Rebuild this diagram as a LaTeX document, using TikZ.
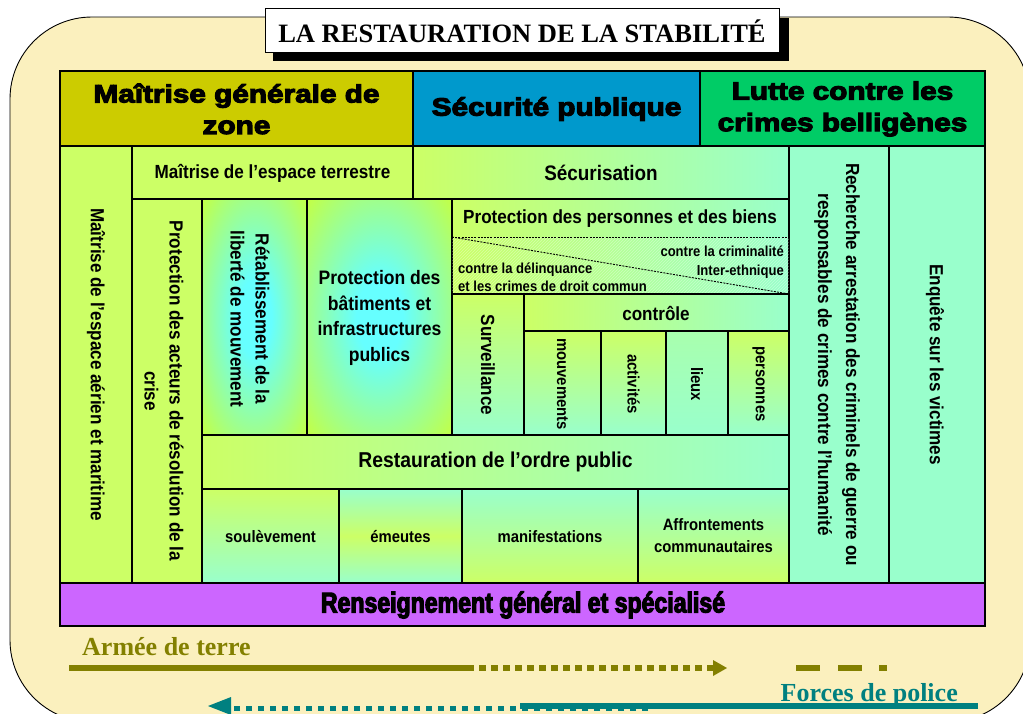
\documentclass[tikz,border=0pt]{standalone}
\usepackage{fontspec}
\setmainfont{Liberation Sans}
\newfontfamily\cf{Liberation Sans}[FakeStretch=0.9]
\newfontfamily\hf{Liberation Sans}[FakeStretch=1.19,FakeBold=4.5]
\newfontfamily\rf{Liberation Sans}[FakeStretch=0.81,FakeBold=4]
\newfontfamily\tf{Liberation Serif}
\usetikzlibrary{patterns}
\definecolor{cBg}{HTML}{FBF0BE}
\definecolor{cLime}{HTML}{CCFF66}
\definecolor{cMint}{HTML}{99FFCC}
\definecolor{cYlime}{HTML}{CCFF33}
\definecolor{cGlow}{HTML}{66FFFF}
\definecolor{cHA}{HTML}{CCCC00}
\definecolor{cHB}{HTML}{0099CC}
\definecolor{cHC}{HTML}{00CC66}
\definecolor{cPurp}{HTML}{CC66FF}
\definecolor{cOlive}{HTML}{838000}
\definecolor{cTeal}{HTML}{008080}
\pgfdeclareradialshading{glowshade}{\pgfpoint{0bp}{0bp}}{color(0bp)=(cGlow); color(8bp)=(cGlow); color(38bp)=(cYlime); color(50bp)=(cYlime)}
\tikzset{
  cell/.style={draw=black, line width=1.2pt},
  hdr/.style={font=\hf\bfseries\fontsize{25}{31.5}\selectfont, align=center, inner sep=0pt},
  lbl/.style={font=\cf\bfseries\fontsize{19}{25}\selectfont, align=center, inner sep=0pt},
  sml/.style={font=\cf\bfseries\fontsize{16.5}{22}\selectfont, align=center, inner sep=0pt},
  tiny/.style={font=\cf\bfseries\fontsize{14.5}{18.5}\selectfont, inner sep=0pt},
  hgrad/.style={left color=cLime, right color=cMint},
  vgrad/.style={top color=cLime, bottom color=cMint},
  vgradr/.style={top color=cMint, bottom color=cLime},
  glow/.style={shading=glowshade},
  divline/.style={dashed, line width=0.9pt, dash pattern=on 2pt off 1.2pt},
  thickline/.style={line width=5.5pt},
  dotline/.style={line width=5.5pt, dash pattern=on 6.5pt off 5.5pt},
}
\begin{document}
\begin{tikzpicture}[x=1pt,y=-1pt]
\useasboundingbox (0,0) rectangle (1023,713);
% background
\draw[fill=cBg, line width=0.9pt, rounded corners=82] (10,17) rectangle (1030,722);
% title
\fill[black] (273,18) rectangle (789,61);
\draw[fill=white, line width=0.8pt] (265,8) rectangle (779,52);
\node[font=\tf\bfseries\fontsize{26.5}{30}\selectfont, inner sep=0pt] (title) at (522,31) {LA RESTAURATION DE LA STABILITÉ};

% header row
\path[cell, fill=cHA] (60,71) rectangle (413,146);
\path[cell, fill=cHB] (413,71) rectangle (700,146);
\path[cell, fill=cHC] (700,71) rectangle (985,146);
\node[hdr] (hA) at (236.5,109) {Maîtrise générale de\\zone};
\node[hdr] (hB) at (556.5,109) {Sécurité publique};
\node[hdr] (hC) at (842.5,109) {Lutte contre les\\crimes belligènes};

% body cells
\path[cell, fill=cLime] (60,146) rectangle (132,583);
\path[cell, fill=cLime] (132,146) rectangle (413,199);
\path[cell, hgrad] (413,146) rectangle (789,199);
\path[cell, fill=cMint] (789,146) rectangle (889,583);
\path[cell, fill=cMint] (889,146) rectangle (985,583);
\path[cell, fill=cLime] (132,199) rectangle (202,583);
\path[cell, glow] (202,199) rectangle (307,435);
\path[cell, glow] (307,199) rectangle (452,435);
\path[cell, hgrad] (452,199) rectangle (789,294);
\fill[pattern=north east lines, pattern color=white, opacity=0.35] (452,237) rectangle (789,294);
\draw[divline] (452,237) -- (789,237);
\draw[divline] (452,237) -- (789,294);
\path[cell, vgrad] (452,294) rectangle (524,435);
\path[cell, hgrad] (524,294) rectangle (789,331);
\path[cell, vgrad] (524,331) rectangle (601,435);
\path[cell, vgrad] (601,331) rectangle (666,435);
\path[cell, top color=cMint!70!cLime, bottom color=cMint] (666,331) rectangle (728,435);
\path[cell, vgrad] (728,331) rectangle (789,435);
\path[cell, hgrad] (202,435) rectangle (789,489);
\path[cell, vgrad] (202,489) rectangle (339,583);
\path[cell, top color=cMint, bottom color=cMint, middle color=cLime] (339,489) rectangle (462,583);
\path[cell, vgradr] (462,489) rectangle (638,583);
\path[cell, vgradr] (638,489) rectangle (789,583);
\path[cell, fill=cPurp] (60,583) rectangle (985,626);

% texts
\node[lbl, rotate=-90] (aer) at (96,364.5) {Maîtrise de l’espace aérien et maritime};
\node[lbl] (terr) at (272.5,173) {Maîtrise de l’espace terrestre};
\node[lbl, font=\cf\bfseries\fontsize{21}{25}\selectfont] (secu) at (601,173) {Sécurisation};
\node[lbl, rotate=-90, font=\cf\bfseries\fontsize{19}{28}\selectfont] (rech) at (837,364.5) {Recherche arrestation des criminels de guerre ou\\responsables de crimes contre l’humanité};
\node[lbl, rotate=-90] (enq) at (935,364.5) {Enquête sur les victimes};
\node[lbl, rotate=-90] (acteurs) at (164,391) {Protection des acteurs de résolution de la\\crise};
\node[lbl, rotate=-90] (retab) at (250,319) {Rétablissement de la\\liberté de mouvement};
\node[lbl, font=\cf\bfseries\fontsize{19.5}{25.5}\selectfont] (batim) at (379.5,318) {Protection des\\bâtiments et\\infrastructures\\publics};
\node[lbl] (perso) at (620,219) {Protection des personnes et des biens};
\node[tiny, anchor=west, align=left] (delin) at (458,277) {contre la délinquance\\et les crimes de droit commun};
\node[tiny, anchor=east, align=right] (crimi) at (784,262) {contre la criminalité\\Inter-ethnique};
\node[lbl, rotate=-90] (surv) at (488,365) {Surveillance};
\node[lbl] (ctrl) at (656,313) {contrôle};
\node[sml, rotate=-90] (mouv) at (562.5,384) {mouvements};
\node[sml, rotate=-90] (activ) at (633.5,384) {activités};
\node[sml, rotate=-90] (lieux) at (697,384) {lieux};
\node[sml, rotate=-90] (pers) at (758.5,384) {personnes};
\node[lbl, font=\cf\bfseries\fontsize{21.5}{25}\selectfont] (ordre) at (495.5,462) {Restauration de l’ordre public};
\node[sml] (soul) at (270.5,537) {soulèvement};
\node[sml] (emeu) at (400.5,537) {émeutes};
\node[sml] (manif) at (550,537) {manifestations};
\node[sml] (affr) at (713.5,536) {Affrontements\\communautaires};
\node[font=\rf\bfseries\fontsize{28.5}{30}\selectfont, inner sep=0pt] (rens) at (523,605) {Renseignement général et spécialisé};

% bottom arrows
\node[font=\tf\bfseries\fontsize{26}{30}\selectfont, text=cOlive, anchor=base west, inner sep=0pt] (armee) at (82,655) {Armée de terre};
\coordinate (a1) at (69,668);
\coordinate (a2) at (474,668);
\coordinate (a3) at (479,668);
\coordinate (a4) at (713,668);
\coordinate (a5) at (727,668);
\draw[thickline, cOlive] (a1) -- (a2);
\draw[dotline, cOlive] (a3) -- (a4);
\fill[cOlive] (713,660) -- (a5) -- (713,676) -- cycle;
\coordinate (d1) at (796,668); \coordinate (d2) at (820,668);
\coordinate (d3) at (838,668); \coordinate (d4) at (862,668);
\coordinate (d5) at (879,668); \coordinate (d6) at (887,668);
\draw[thickline, cOlive] (d1) -- (d2);
\draw[thickline, cOlive] (d3) -- (d4);
\draw[thickline, cOlive] (d5) -- (d6);

\node[font=\tf\bfseries\fontsize{26}{30}\selectfont, text=cTeal, anchor=base east, inner sep=0pt] (police) at (958,701) {Forces de police};
\coordinate (p1) at (978,706);
\coordinate (p2) at (520,706);
\coordinate (p3) at (648,708.5);
\coordinate (p4) at (231,708.5);
\coordinate (p5) at (208,706);
\draw[dotline, cTeal] (p3) -- (p4);
\draw[thickline, cTeal] (p1) -- (p2);
\fill[cTeal] (231,697) -- (p5) -- (231,715) -- cycle;
\end{tikzpicture}
\end{document}
